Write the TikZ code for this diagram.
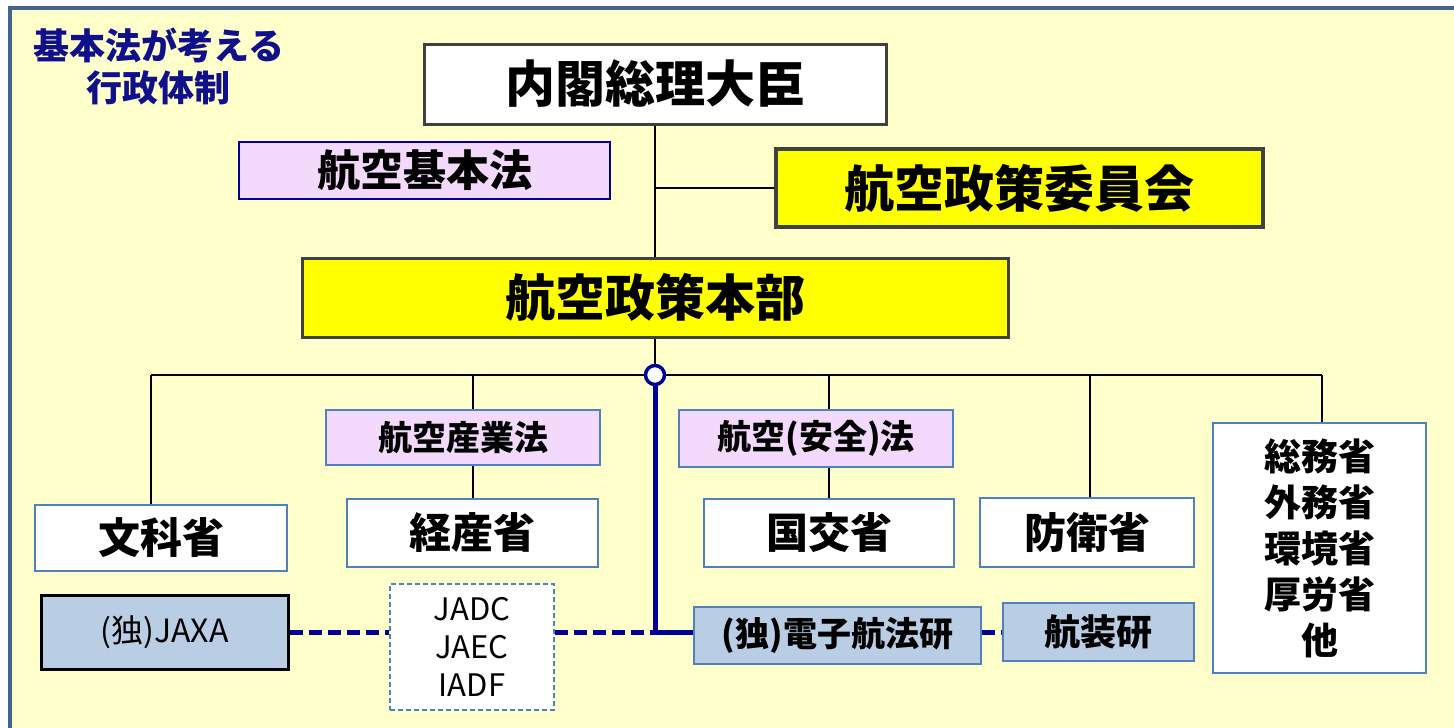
\documentclass[tikz,border=0pt]{standalone}
\usepackage{fontspec}
\setmainfont{Noto Sans CJK JP}
\usetikzlibrary{backgrounds}
\definecolor{bgyellow}{HTML}{FFFFCC}
\definecolor{framecol}{HTML}{42648F}
\definecolor{navyline}{HTML}{000099}
\definecolor{titlecol}{HTML}{10108A}
\definecolor{pinkfill}{HTML}{F3D9FB}
\definecolor{bluefill}{HTML}{B9CDE5}
\definecolor{steel}{HTML}{4F81BD}
\definecolor{darkgray}{HTML}{404040}
\definecolor{yel}{HTML}{FFFF00}
\tikzset{
  box/.style={draw, rectangle, inner sep=0pt, font=\bfseries, text=black, align=center},
  topbox/.style={box, fill=white, draw=darkgray, line width=3pt, font=\bfseries\fontsize{50}{56}\selectfont},
  yelbox/.style={box, fill=yel, draw=darkgray, line width=3pt, font=\bfseries\fontsize{50}{56}\selectfont},
  lawbox/.style={box, fill=pinkfill, draw=steel, line width=1.5pt, font=\bfseries\fontsize{34}{38}\selectfont},
  minbox/.style={box, fill=white, draw=steel, line width=1.5pt, font=\bfseries\fontsize{42}{46}\selectfont},
  instbox/.style={box, fill=bluefill, draw=steel, line width=1.5pt, font=\bfseries\fontsize{34}{38}\selectfont},
  tree/.style={draw=black, line width=2pt},
  blueline/.style={draw=navyline, line width=5pt},
  bluedash/.style={draw=navyline, line width=5pt, dash pattern=on 13pt off 6pt},
}
\begin{document}
\begin{tikzpicture}[x=1pt,y=-1pt]
\useasboundingbox (0,0) rectangle (1454,728);
\clip (0,0) rectangle (1454,728);
\begin{scope}[on background layer]
  \fill[white] (0,0) rectangle (1454,728);
  \fill[bgyellow] (10,8) rectangle (1470,745);
  \draw[framecol, line width=4pt] (10,8) rectangle (1470,745);
\end{scope}

\node[font=\bfseries\fontsize{36}{42}\selectfont, text=titlecol, align=center] (title) at (159,66) {基本法が考える\\行政体制};

\node[topbox, minimum width=462pt, minimum height=80pt] (naikaku) at (655,84) {内閣総理大臣};
\node[lawbox, draw=navyline, minimum width=371pt, minimum height=57pt, font=\bfseries\fontsize{43}{46}\selectfont] (kihon) at (424.5,170.5) {航空基本法};
\node[yelbox, line width=4pt, minimum width=487pt, minimum height=78pt] (iinkai) at (1019.5,188) {航空政策委員会};
\node[yelbox, minimum width=706pt, minimum height=79pt] (honbu) at (655,297.5) {航空政策本部};

\node[circle, draw=navyline, fill=white, line width=3.5pt, minimum size=19pt, inner sep=0pt] (hub) at (655,375) {};

\node[lawbox, minimum width=274pt, minimum height=55pt] (sangyo) at (463,437.5) {航空産業法};
\node[lawbox, minimum width=274pt, minimum height=57pt] (anzen) at (816,438.5) {航空(安全)法};

\node[minbox, minimum width=252pt, minimum height=66pt] (monka) at (161,538) {文科省};
\node[minbox, minimum width=251pt, minimum height=68pt] (keisan) at (472.5,533) {経産省};
\node[minbox, minimum width=250pt, minimum height=68pt] (kokko) at (829,533) {国交省};
\node[minbox, minimum width=214pt, minimum height=69pt] (boei) at (1087,532.5) {防衛省};
\node[minbox, minimum width=213pt, minimum height=250pt, font=\bfseries\fontsize{37}{46}\selectfont] (somu) at (1319.5,548) {総務省\\外務省\\環境省\\厚労省\\他};

\node[instbox, draw=black, line width=3pt, minimum width=247pt, minimum height=74pt, font=\fontsize{32}{34}\selectfont] (jaxa) at (164.5,632) {(独)JAXA};
\node[box, fill=white, draw=steel, line width=1.5pt, dash pattern=on 5pt off 3pt, minimum width=164pt, minimum height=126pt, font=\fontsize{31}{38}\selectfont] (jadc) at (472,647) {JADC\\JAEC\\IADF};
\node[instbox, minimum width=287pt, minimum height=57pt] (denshi) at (837.5,635.5) {(独)電子航法研};
\node[instbox, minimum width=191pt, minimum height=58pt, font=\bfseries\fontsize{36}{38}\selectfont] (kosoken) at (1098.5,632) {航装研};

\coordinate (d1) at (151,375);
\coordinate (d2) at (473,375);
\coordinate (d3) at (829,375);
\coordinate (d4) at (1090,375);
\coordinate (d5) at (1322,375);
\coordinate (junc) at (655,632);

\begin{scope}[on background layer]
  \draw[tree] (naikaku.south) -- (honbu.north);
  \draw[tree] (naikaku.south |- iinkai.west) -- (iinkai.west);
  \draw[tree] (honbu.south) -- (hub.north);
  \draw[tree] (d1) -- (d5);
  \draw[tree] (d1) -- (d1 |- monka.north);
  \draw[tree] (d2) -- (d2 |- keisan.north);
  \draw[tree] (d3) -- (d3 |- kokko.north);
  \draw[tree] (d4) -- (d4 |- boei.north);
  \draw[tree] (d5) -- (d5 |- somu.north);
  \draw[blueline] (hub.south) -- (junc);
  \draw[blueline] (junc) -- (denshi.west |- junc);
  \draw[bluedash] (jaxa.east) -- (jadc.west |- jaxa.east);
  \draw[bluedash] (jadc.east |- junc) -- (junc);
  \draw[bluedash] (denshi.east |- kosoken.west) -- (kosoken.west);
\end{scope}
\end{tikzpicture}
\end{document}
